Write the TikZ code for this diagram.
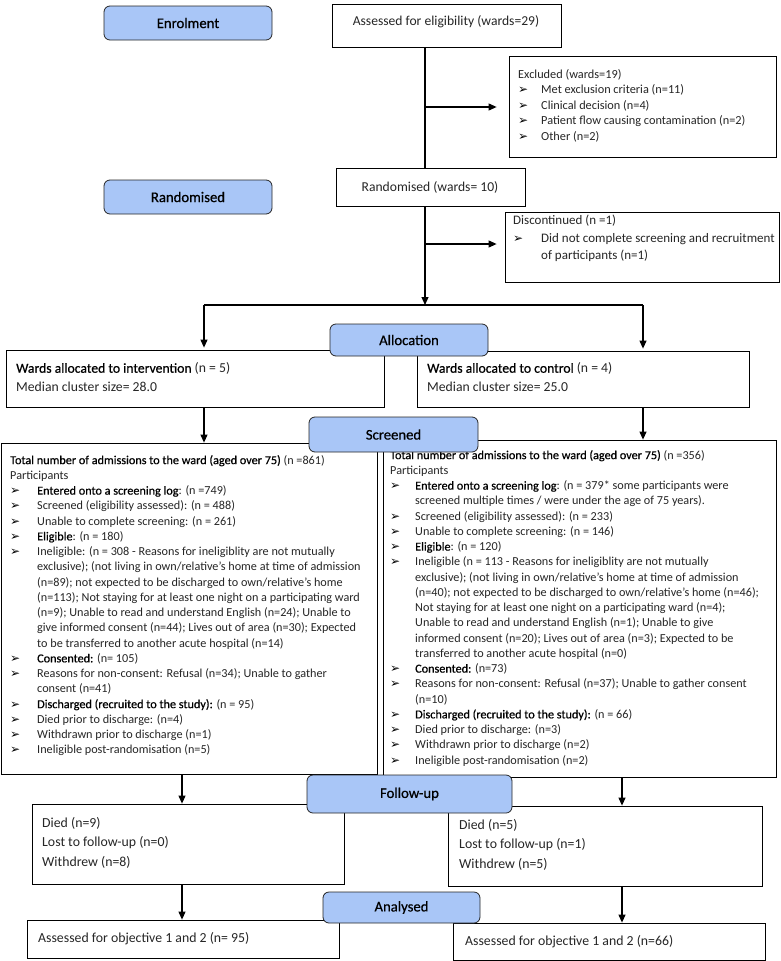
\documentclass[tikz,border=0pt]{standalone}
\usepackage{fontspec}
\setmainfont{Carlito}
\newfontfamily\emf[FakeBold=0.6]{Carlito}
\newfontfamily\symf{DejaVu Sans}
\usetikzlibrary{arrows.meta,fit}
\definecolor{hdrblue}{RGB}{169,198,247}
\definecolor{txtc}{RGB}{38,38,38}
\newcommand\bul{{\symf\fontsize{12}{12}\selectfont\color{black}➢}}
\newcommand\bi[1]{\makebox[#1][l]{\bul}}
\newcommand\ci[1]{\hspace*{#1}}
\newcommand\E[1]{{\emf\color{black}#1}}
\begin{document}
\begin{tikzpicture}[x=1pt,y=-1pt,
  box/.style={draw=black, line width=0.8pt, fill=white, inner sep=0pt},
  hdr/.style={draw=black!85, line width=0.8pt, fill=hdrblue, rounded corners=6pt, inner sep=0pt},
  hdrt/.style={inner sep=0pt, font=\emf\fontsize{14.7}{17}\selectfont},
  tx/.style={anchor=north west, inner sep=0pt, align=left, font=\fontsize{12.2}{15.25}\selectfont, text=txtc},
  ctr/.style={inner sep=0pt, font=\fontsize{13.6}{16}\selectfont, text=txtc},
  conn/.style={line width=1.1pt},
  arr/.style={line width=1.1pt, -{Triangle[length=8pt,width=7pt]}}]
\useasboundingbox (0,0) rectangle (780,961);

% ---------- white boxes ----------
\node[box, fit={(332,4)(561,47)}] (assess) {};
\node[ctr] (assesst) at (446,22) {Assessed for eligibility (wards=29)};
\node[box, fit={(509,56)(776,157)}] (excl) {};
\node[tx, font=\fontsize{12.3}{15.5}\selectfont] (exclt) at (518,69) {Excluded (wards=19)\\
\bi{23pt}Met exclusion criteria (n=11)\\
\bi{23pt}Clinical decision (n=4)\\
\bi{23pt}Patient flow causing contamination (n=2)\\
\bi{23pt}Other (n=2)};
\node[box, fit={(336,168)(525,206)}] (rand) {};
\node[ctr] (randt) at (430,187) {Randomised (wards= 10)};
\node[box, fit={(505,212)(779,282)}] (disc) {};
\node[tx, font=\fontsize{13}{17.5}\selectfont] (disct) at (513,215) {Discontinued (n =1)\\
\bi{28pt}Did not complete screening and recruitment\\
\ci{28pt}of participants (n=1)};

\node[box, fit={(6,350)(384,407)}] (intv) {};
\node[tx, font=\fontsize{13.7}{19}\selectfont] (intvt) at (16,362.5) {\E{Wards allocated to intervention} (n = 5)\\
Median cluster size= 28.0};
\node[box, fit={(417,351)(749,407)}] (ctrl) {};
\node[tx, font=\fontsize{13.7}{19}\selectfont] (ctrlt) at (427,362.5) {\E{Wards allocated to control} (n = 4)\\
Median cluster size= 25.0};

\node[box, fit={(1,443)(377,774)}] (lscr) {};
\node[tx] (lscrt) at (10,455) {\E{Total number of admissions to the ward (aged over 75)} (n =861)\\
Participants\\
\bi{27pt}\E{Entered onto a screening log}: (n =749)\\
\bi{27pt}Screened (eligibility assessed): (n = 488)\\
\bi{27pt}Unable to complete screening: (n = 261)\\
\bi{27pt}\E{Eligible}: (n = 180)\\
\bi{27pt}Ineligible: (n = 308 - Reasons for ineligiblity are not mutually\\
\ci{27pt}exclusive); (not living in own/relative’s home at time of admission\\
\ci{27pt}(n=89); not expected to be discharged to own/relative’s home\\
\ci{27pt}(n=113); Not staying for at least one night on a participating ward\\
\ci{27pt}(n=9); Unable to read and understand English (n=24); Unable to\\
\ci{27pt}give informed consent (n=44); Lives out of area (n=30); Expected\\
\ci{27pt}to be transferred to another acute hospital (n=14)\\
\bi{27pt}\E{Consented:} (n= 105)\\
\bi{27pt}Reasons for non-consent: Refusal (n=34); Unable to gather\\
\ci{27pt}consent (n=41)\\
\bi{27pt}\E{Discharged (recruited to the study):} (n = 95)\\
\bi{27pt}Died prior to discharge: (n=4)\\
\bi{27pt}Withdrawn prior to discharge (n=1)\\
\bi{27pt}Ineligible post-randomisation (n=5)};

\node[box, fit={(383,440)(776,777)}] (rscr) {};
\node[tx] (rscrt) at (390,450) {\E{Total number of admissions to the ward (aged over 75)} (n =356)\\
Participants\\
\bi{25pt}\E{Entered onto a screening log}: (n = 379* some participants were\\
\ci{25pt}screened multiple times / were under the age of 75 years).\\
\bi{25pt}Screened (eligibility assessed): (n = 233)\\
\bi{25pt}Unable to complete screening: (n = 146)\\
\bi{25pt}\E{Eligible}: (n = 120)\\
\bi{25pt}Ineligible (n = 113 - Reasons for ineligiblity are not mutually\\
\ci{25pt}exclusive); (not living in own/relative’s home at time of admission\\
\ci{25pt}(n=40); not expected to be discharged to own/relative’s home (n=46);\\
\ci{25pt}Not staying for at least one night on a participating ward (n=4);\\
\ci{25pt}Unable to read and understand English (n=1); Unable to give\\
\ci{25pt}informed consent (n=20); Lives out of area (n=3); Expected to be\\
\ci{25pt}transferred to another acute hospital (n=0)\\
\bi{25pt}\E{Consented:} (n=73)\\
\bi{25pt}Reasons for non-consent: Refusal (n=37); Unable to gather consent\\
\ci{25pt}(n=10)\\
\bi{25pt}\E{Discharged (recruited to the study):} (n = 66)\\
\bi{25pt}Died prior to discharge: (n=3)\\
\bi{25pt}Withdrawn prior to discharge (n=2)\\
\bi{25pt}Ineligible post-randomisation (n=2)};

\node[box, fit={(32,804)(344,884)}] (lfu) {};
\node[tx, font=\fontsize{13.8}{19.5}\selectfont] (lfut) at (42,817) {Died (n=9)\\
Lost to follow-up (n=0)\\
Withdrew (n=8)};
\node[box, fit={(448,806)(762,886)}] (rfu) {};
\node[tx, font=\fontsize{13.8}{19.5}\selectfont] (rfut) at (459,819) {Died (n=5)\\
Lost to follow-up (n=1)\\
Withdrew (n=5)};

\node[box, fit={(27,920)(339,958)}] (lan) {};
\node[tx, font=\fontsize{13.8}{16}\selectfont] (lant) at (38,932) {Assessed for objective 1 and 2 (n= 95)};
\node[box, fit={(453,923)(765,960)}] (ran) {};
\node[tx, font=\fontsize{13.8}{16}\selectfont] (rant) at (465,935) {Assessed for objective 1 and 2 (n=66)};

% ---------- header (blue) boxes ----------
\node[hdr, fit={(104,6)(272,40)}] (enrol) {};
\node[hdrt] (enrolt) at (enrol.center) {Enrolment};
\node[hdr, fit={(104,180)(272,214)}] (randh) {};
\node[hdrt] (randht) at (randh.center) {Randomised};
\node[hdr, fit={(330,324)(488,356)}] (alloc) {};
\node[hdrt] (alloct) at (alloc.center) {Allocation};
\node[hdr, fit={(309,417)(478,452)}] (scrh) {};
\node[hdrt] (scrht) at (scrh.center) {Screened};
\node[hdr, fit={(307,775)(512,813)}] (fuh) {};
\node[hdrt] (fuht) at (fuh.center) {Follow-up};
\node[hdr, fit={(323,892)(480,923)}] (anh) {};
\node[hdrt] (anht) at (anh.center) {Analysed};

% ---------- connectors ----------
\coordinate (tx) at (425,0);
\coordinate (e1) at (425,107);
\coordinate (d1) at (425,244);
\coordinate (bm) at (425,305);
\coordinate (bl) at (204,305);
\coordinate (br) at (643,305);
\coordinate (cl) at (182,0);
\coordinate (cr) at (622,0);

\draw[conn] (assess.south -| tx) -- (rand.north -| tx);
\draw[arr, shorten >=12pt] (e1) -- (e1 -| excl.west);
\draw[arr] (rand.south -| tx) -- (bm);
\draw[arr, shorten >=8pt] (d1) -- (d1 -| disc.west);
\draw[conn] (bl) -- (br);
\draw[arr, shorten >=2pt] (bl) -- (bl |- intv.north);
\draw[arr, shorten >=2pt] (br) -- (br |- ctrl.north);
\draw[arr] (intv.south -| bl) -- (lscr.north -| bl);
\draw[arr] (ctrl.south -| br) -- (rscr.north -| br);
\draw[arr] (lscr.south -| cl) -- (lfu.north -| cl);
\draw[arr] (rscr.south -| cr) -- (rfu.north -| cr);
\draw[arr] (lfu.south -| cl) -- (lan.north -| cl);
\draw[arr] (rfu.south -| cr) -- (ran.north -| cr);
\end{tikzpicture}
\end{document}
